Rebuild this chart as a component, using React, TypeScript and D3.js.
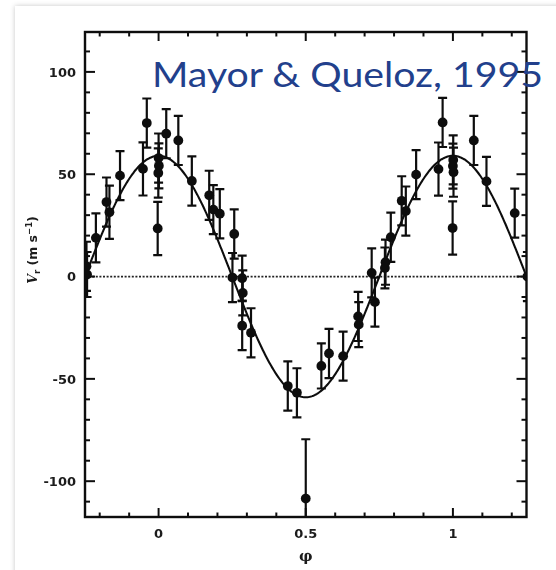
import React from "react";
import * as d3 from "d3";

// Radial-velocity measurements of 51 Peg, folded on the orbital phase
const phases = [
  -0.245, -0.243, -0.213, -0.177, -0.167, -0.131, -0.053, -0.04, -0.003, 0.0,
  0.001, -0.001, 0.026, 0.067, 0.113, 0.172, 0.186, 0.208, 0.257, 0.251,
  0.284, 0.286, 0.284, 0.314, 0.439, 0.47, 0.5, 0.553, 0.579, 0.627,
  0.678, 0.68, 0.724, 0.735, 0.769, 0.771, 0.789, 0.826, 0.84, 0.875,
  0.951, 0.965, 0.999, 1.001, 1.0, 1.002, 1.071, 1.114, 1.21, 1.253,
];
const velocities = [
  5, 1, 18.9, 36.4, 31.4, 49.3, 52.6, 75.0, 23.5, 57.9,
  54.1, 50.6, 69.8, 66.5, 46.7, 39.7, 32.7, 30.7, 20.8, -0.5,
  -0.8, -8, -24, -27.5, -53.5, -56.8, -108.5, -43.7, -37.6, -38.9,
  -19.5, -23.5, 1.8, -12.5, 4.2, 7, 19.2, 37, 32, 49.8,
  52.5, 75.3, 23.7, 57, 54, 51, 66.5, 46.5, 31, 0,
];
const errors = [
  12, 11, 12, 12, 13, 12, 13, 12, 13, 12,
  11, 12, 12, 12, 12, 12, 12, 12, 12, 12,
  11, 11, 12, 12, 12, 12, 29, 11, 12, 12,
  12, 11, 12, 12, 10, 11, 12, 12, 12, 12,
  13, 12, 13, 12, 11, 12, 12, 12, 12, 12,
];

// Circular-orbit fit: semi-amplitude K (m/s)
const semiAmplitude = 59;

const xTickLabels = [0, 0.5, 1];
const yTickLabels = [-100, -50, 0, 50, 100];

const W = 556;
const H = 570;

export default function App() {
  const x = d3.scaleLinear().domain([-0.25, 1.25]).range([85, 526.5]);
  const y = d3.scaleLinear().domain([-117.5, 119.5]).range([517, 32]);
  const [x0, x1] = x.range();
  const [yb, yt] = y.range();

  const pts = phases.map((p, i) => ({ p, v: velocities[i], e: errors[i] }));

  const fitPts = d3.range(-0.25, 1.2501, 0.004).map((p) => [p, semiAmplitude * Math.cos(2 * Math.PI * p)] as [number, number]);
  const fitLine = d3
    .line<[number, number]>()
    .x((d) => x(d[0]))
    .y((d) => y(d[1]))
    .curve(d3.curveLinear)(fitPts);

  const xMinor = d3.range(-2, 13).map((k) => k / 10);
  const yMinor = d3.range(-11, 12).map((k) => k * 10);
  const isMajorX = (t: number) => Math.abs(t * 2 - Math.round(t * 2)) < 1e-9;
  const isMajorY = (t: number) => t % 50 === 0;

  const ink = "#111";
  const tickFont = { fontFamily: "DejaVu Sans", fontWeight: 700, fontSize: 13, fill: "#1a1a1a" } as const;

  return (
    <svg width={W} height={H} style={{ position: "absolute", left: 0, top: 0, background: "#fff" }}>
      <defs>
        <filter id="cardShadow" x="-5%" y="-5%" width="110%" height="110%">
          <feDropShadow dx="0" dy="0" stdDeviation="2.5" floodColor="#000" floodOpacity="0.22" />
        </filter>
        <clipPath id="plotClip">
          <rect x={x0} y={yt} width={x1 - x0} height={yb - yt} />
        </clipPath>
        <filter id="soft">
          <feGaussianBlur stdDeviation="0.5" />
        </filter>
      </defs>

      <rect x={0} y={0} width={W} height={H} fill="#fff" />
      <rect x={15} y={6} width={W + 20} height={H + 20} fill="#fff" filter="url(#cardShadow)" />

      <g filter="url(#soft)">
        {/* zero-velocity reference */}
        <line x1={x0} x2={x1} y1={y(0)} y2={y(0)} stroke="#222" strokeWidth={1.8} strokeDasharray="2 1.6" />

        {/* orbital fit */}
        <path d={fitLine ?? ""} fill="none" stroke={ink} strokeWidth={2.1} clipPath="url(#plotClip)" />

        {/* error bars and measurements */}
        <g clipPath="url(#plotClip)">
          {pts.map((d, i) => {
            const cx = x(d.p);
            const top = y(d.v + d.e);
            const bot = y(d.v - d.e);
            return (
              <g key={i}>
                <line x1={cx} x2={cx} y1={top} y2={bot} stroke={ink} strokeWidth={2.2} />
                <line x1={cx - 4.5} x2={cx + 4.5} y1={top} y2={top} stroke={ink} strokeWidth={2.2} />
                <line x1={cx - 4.5} x2={cx + 4.5} y1={bot} y2={bot} stroke={ink} strokeWidth={2.2} />
                <circle cx={cx} cy={y(d.v)} r={4.9} fill={ink} />
              </g>
            );
          })}
        </g>

        {/* frame */}
        <rect x={x0} y={yt} width={x1 - x0} height={yb - yt} fill="none" stroke={ink} strokeWidth={2.4} />

        {/* x ticks, bottom and top, pointing inward */}
        {xMinor.map((t) => {
          const len = isMajorX(t) ? 9 : 4.5;
          return (
            <g key={"xt" + t}>
              <line x1={x(t)} x2={x(t)} y1={yb} y2={yb - len} stroke={ink} strokeWidth={2} />
              <line x1={x(t)} x2={x(t)} y1={yt} y2={yt + len} stroke={ink} strokeWidth={2} />
            </g>
          );
        })}

        {/* y ticks, left and right, pointing inward */}
        {yMinor.map((t) => {
          const len = isMajorY(t) ? 10 : 5;
          return (
            <g key={"yt" + t}>
              <line x1={x0} x2={x0 + len} y1={y(t)} y2={y(t)} stroke={ink} strokeWidth={2} />
              <line x1={x1} x2={x1 - len} y1={y(t)} y2={y(t)} stroke={ink} strokeWidth={2} />
            </g>
          );
        })}

        {xTickLabels.map((t) => (
          <text key={"xl" + t} x={x(t)} y={538} textAnchor="middle" {...tickFont}>
            {String(t)}
          </text>
        ))}
        {yTickLabels.map((t) => (
          <text key={"yl" + t} x={76} y={y(t)} dy="0.36em" textAnchor="end" {...tickFont}>
            {t < 0 ? "-" + Math.abs(t) : String(t)}
          </text>
        ))}

        <text x={x(0.5)} y={561} textAnchor="middle" fontFamily="DejaVu Serif" fontWeight={700} fontSize={15} fill="#1a1a1a">
          φ
        </text>

        <text
          transform={`translate(37, 250) rotate(-90)`}
          textAnchor="middle"
          fontFamily="DejaVu Sans"
          fontWeight={700}
          fontSize={12.5}
          fill="#1a1a1a"
        >
          <tspan fontStyle="italic" fontFamily="DejaVu Serif">V</tspan>
          <tspan fontSize={8.5} dy={3}>r</tspan>
          <tspan dy={-3}> (m s</tspan>
          <tspan fontSize={8.5} dy={-5}>−1</tspan>
          <tspan dy={5}>)</tspan>
        </text>
      </g>

      <text
        x={152}
        y={87}
        fontFamily="Lato"
        fontWeight={400}
        fontSize={34}
        fill="#22408c"
        textLength={391}
        lengthAdjust="spacingAndGlyphs"
      >
        Mayor &amp; Queloz, 1995
      </text>
    </svg>
  );
}
